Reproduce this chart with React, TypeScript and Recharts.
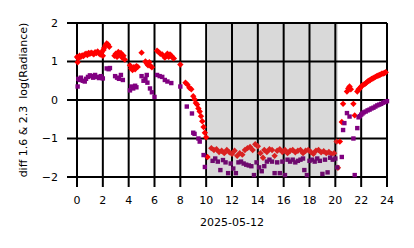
import React from 'react';
import {
  ScatterChart,
  Scatter,
  XAxis,
  YAxis,
  ReferenceArea,
  ReferenceLine,
  Label,
} from 'recharts';

// hour of day, diff of log radiance (red series)
const redSeries: [number, number][] = [
  [0.0, 1.12], [0.05, 0.98], [0.1, 1.08], [0.2, 1.15], [0.3, 1.12], [0.4, 1.16], [0.5, 1.14],
  [0.6, 1.18], [0.7, 1.2], [0.8, 1.17], [0.9, 1.22], [1.0, 1.2], [1.1, 1.23], [1.2, 1.21],
  [1.3, 1.19], [1.4, 1.24], [1.5, 1.22], [1.6, 1.26], [1.7, 1.21], [1.8, 1.18], [1.9, 1.24],
  [2.0, 1.15], [2.05, 1.3], [2.1, 1.35], [2.2, 1.42], [2.3, 1.47], [2.4, 1.44], [2.5, 1.38],
  [2.9, 1.15], [3.0, 1.2], [3.1, 1.12], [3.2, 1.25], [3.3, 1.18], [3.4, 1.22], [3.5, 1.1],
  [3.6, 1.15], [3.7, 1.05],
  [4.1, 0.9], [4.2, 0.82], [4.3, 0.78], [4.4, 0.85], [4.5, 0.8], [4.6, 0.88], [4.7, 0.86],
  [5.0, 1.23], [5.3, 1.0], [5.4, 0.95], [5.5, 0.9], [5.6, 0.98], [5.7, 0.88], [5.8, 0.85],
  [6.2, 1.28], [6.3, 1.25], [6.45, 1.2], [6.6, 1.18], [6.8, 1.1], [6.9, 1.15], [7.0, 1.2],
  [7.1, 1.12], [7.2, 1.18], [7.3, 1.15], [7.4, 1.1], [7.5, 1.08],
  [8.0, 0.92], [8.4, 0.45], [8.55, 0.4], [8.7, 0.32], [8.85, 0.28], [9.0, 0.1], [9.1, 0.02],
  [9.2, -0.08], [9.3, -0.12], [9.4, -0.22], [9.5, -0.3], [9.6, -0.42], [9.7, -0.55],
  [9.8, -0.7], [9.9, -0.85], [10.0, -0.97], [10.1, -1.48],
  [10.4, -1.25], [10.6, -1.3], [10.8, -1.28], [11.0, -1.35], [11.2, -1.32], [11.4, -1.38],
  [11.6, -1.3], [11.8, -1.36], [12.0, -1.4], [12.2, -1.32], [12.4, -1.45], [12.6, -1.38],
  [12.8, -1.42], [13.0, -1.3], [13.2, -1.25], [13.4, -1.22], [13.6, -1.3], [13.8, -1.15],
  [14.0, -1.2], [14.2, -1.38], [14.4, -1.5], [14.5, -1.3], [14.7, -1.35], [14.9, -1.28],
  [15.1, -1.3], [15.3, -1.45], [15.5, -1.32], [15.7, -1.28], [15.9, -1.35], [16.1, -1.3],
  [16.3, -1.38], [16.5, -1.32], [16.7, -1.3], [16.9, -1.36], [17.1, -1.32], [17.3, -1.3],
  [17.5, -1.38], [17.7, -1.32], [17.9, -1.3], [18.1, -1.35], [18.3, -1.4], [18.5, -1.32],
  [18.7, -1.3], [18.9, -1.36], [19.1, -1.33], [19.3, -1.38], [19.5, -1.35], [19.7, -1.4],
  [19.9, -1.38],
  [20.1, -1.08], [20.2, -1.76], [20.35, -1.08], [20.5, -0.57], [20.6, -0.1], [20.9, 0.22],
  [21.0, 0.3], [21.1, 0.35], [21.2, 0.28], [21.4, -0.1], [21.5, -0.4],
  [21.7, 0.22], [21.8, 0.28], [21.9, 0.3], [22.0, 0.35], [22.1, 0.38], [22.2, 0.4],
  [22.3, 0.42], [22.4, 0.45], [22.5, 0.48], [22.6, 0.5], [22.7, 0.52], [22.8, 0.55],
  [22.9, 0.56], [23.0, 0.58], [23.1, 0.6], [23.2, 0.62], [23.3, 0.63], [23.4, 0.65],
  [23.5, 0.66], [23.6, 0.68], [23.7, 0.69], [23.8, 0.7], [23.9, 0.72],
];

// purple series
const purpleSeries: [number, number][] = [
  [0.05, 0.35], [0.1, 0.55], [0.2, 0.52], [0.3, 0.58], [0.45, 0.5], [0.6, 0.48], [0.7, 0.55],
  [0.85, 0.6], [1.0, 0.64], [1.1, 0.62], [1.25, 0.58], [1.4, 0.65], [1.55, 0.6], [1.7, 0.57],
  [1.85, 0.62], [2.0, 0.56], [2.3, 0.82], [2.45, 0.8], [2.55, 0.83],
  [2.95, 0.62], [3.1, 0.58], [3.25, 0.55], [3.4, 0.65], [3.55, 0.52],
  [4.1, 0.25], [4.2, 0.35], [4.35, 0.3], [4.5, 0.37], [4.6, 0.33],
  [5.0, 0.62], [5.15, 0.5], [5.3, 0.55], [5.4, 0.65], [5.45, 0.45], [5.65, 0.3], [5.8, 0.2],
  [6.0, 0.08], [6.2, 0.65], [6.4, 0.62], [6.6, 0.6], [6.8, 0.52], [7.0, 0.48], [7.3, 0.44],
  [8.0, 0.35], [8.5, -0.17], [8.9, -0.35], [9.0, -0.85], [9.1, -0.88], [9.4, -1.0],
  [9.5, -1.08], [9.8, -1.43], [9.9, -1.74],
  [10.5, -1.58], [10.7, -1.52], [10.9, -1.6], [11.1, -1.82], [11.3, -1.56], [11.5, -1.62],
  [11.7, -1.9], [11.9, -1.65], [12.1, -1.78], [12.3, -1.9], [12.5, -1.62], [12.7, -1.6],
  [12.9, -1.65], [13.1, -1.68], [13.3, -1.7], [13.5, -1.72], [13.7, -1.95], [13.9, -1.62],
  [14.1, -1.75], [14.3, -1.85], [14.5, -1.72], [14.7, -1.6], [14.9, -1.55], [15.1, -1.6],
  [15.3, -1.9], [15.5, -1.62], [15.7, -1.9], [15.9, -1.6], [16.1, -1.95], [16.3, -1.55],
  [16.5, -1.6], [16.7, -1.55], [16.9, -1.62], [17.1, -1.58], [17.3, -1.55], [17.5, -1.52],
  [17.6, -1.82], [17.8, -1.95], [18.0, -1.58], [18.2, -1.55], [18.4, -1.6], [18.6, -1.52],
  [18.8, -1.58], [19.0, -1.92], [19.2, -1.55], [19.4, -1.88], [19.6, -1.5], [19.8, -1.55],
  [20.0, -1.52], [20.15, -1.75],
  [20.5, -1.48], [20.6, -0.78], [20.7, -0.6], [20.9, -0.34], [21.1, -0.43], [21.4, -1.0],
  [21.5, -1.95], [21.7, -0.73],
  [21.8, -0.45], [21.9, -0.42], [22.0, -0.38], [22.1, -0.35], [22.2, -0.32], [22.35, -0.3],
  [22.5, -0.27], [22.65, -0.25], [22.8, -0.22], [22.95, -0.2], [23.1, -0.17], [23.25, -0.14],
  [23.4, -0.12], [23.55, -0.1], [23.7, -0.07], [23.85, -0.05], [24.0, -0.03],
];

const xTicks = [0, 2, 4, 6, 8, 10, 12, 14, 16, 18, 20, 22, 24];
const yTicks = [-2, -1, 0, 1, 2];
const shadedHours = [10.15, 20.2];

const redData = redSeries.map(([t, v]) => ({ t, v }));
const purpleData = purpleSeries.map(([t, v]) => ({ t, v }));

const font = 'DejaVu Sans, sans-serif';

// points under the grey band look dimmed in the original
const inShade = (p: any) => p && p.t >= shadedHours[0] && p.t <= shadedHours[1];

const RedDiamond = (props: any) => {
  const { cx, cy, payload } = props;
  const r = 3.2;
  return (
    <polygon
      points={`${cx},${cy - r} ${cx + r},${cy} ${cx},${cy + r} ${cx - r},${cy}`}
      fill={inShade(payload) ? '#d92121' : '#ff0000'}
    />
  );
};

const PurpleSquare = (props: any) => {
  const { cx, cy, payload } = props;
  return (
    <rect
      x={cx - 2.2}
      y={cy - 2.2}
      width={4.4}
      height={4.4}
      fill={inShade(payload) ? '#6d0a6d' : '#800080'}
    />
  );
};

export default function App() {
  return (
    <div style={{ position: 'absolute', left: 0, top: 0, background: '#fff' }}>
      <ScatterChart
        width={414}
        height={248}
        margin={{ top: 23, right: 27, bottom: 0, left: 0 }}
        style={{ fontFamily: font }}
      >
        <XAxis
          type="number"
          dataKey="t"
          domain={[0, 24]}
          ticks={xTicks}
          interval={0}
          height={71}
          axisLine={false}
          tickSize={10}
          tickMargin={9}
          tickLine={{ stroke: '#000', strokeWidth: 2 }}
          tick={{ fill: '#000', fontSize: 11 }}
        >
          <Label value="2025-05-12" position="insideBottom" offset={22} fill="#000" fontSize={11} />
        </XAxis>
        <YAxis
          type="number"
          dataKey="v"
          domain={[-2, 2]}
          ticks={yTicks}
          interval={0}
          width={77}
          axisLine={false}
          tickSize={10}
          tickMargin={9}
          tickLine={{ stroke: '#000', strokeWidth: 2 }}
          tick={{ fill: '#000', fontSize: 11 }}
          tickFormatter={(v: number) => String(v).replace('-', '\u2212')}
        >
          <Label
            value={'diff 1.6 & 2.3 \u00a0log(Radiance)'}
            angle={-90}
            position="insideLeft"
            offset={23}
            fill="#000"
            fontSize={11}
            style={{ textAnchor: 'middle' }}
          />
        </YAxis>
        <ReferenceArea
          x1={shadedHours[0]}
          x2={shadedHours[1]}
          y1={-2}
          y2={2}
          fill="#000"
          fillOpacity={0.15}
          stroke="none"
        />
        <Scatter data={redData} shape={RedDiamond} isAnimationActive={false} />
        <Scatter data={purpleData} shape={PurpleSquare} isAnimationActive={false} />
        {xTicks.map((t) => (
          <ReferenceLine key={`vx-${t}`} x={t} stroke="#000" strokeWidth={2} />
        ))}
        {yTicks.map((v) => (
          <ReferenceLine key={`hy-${v}`} y={v} stroke="#000" strokeWidth={2} />
        ))}
      </ScatterChart>
    </div>
  );
}
